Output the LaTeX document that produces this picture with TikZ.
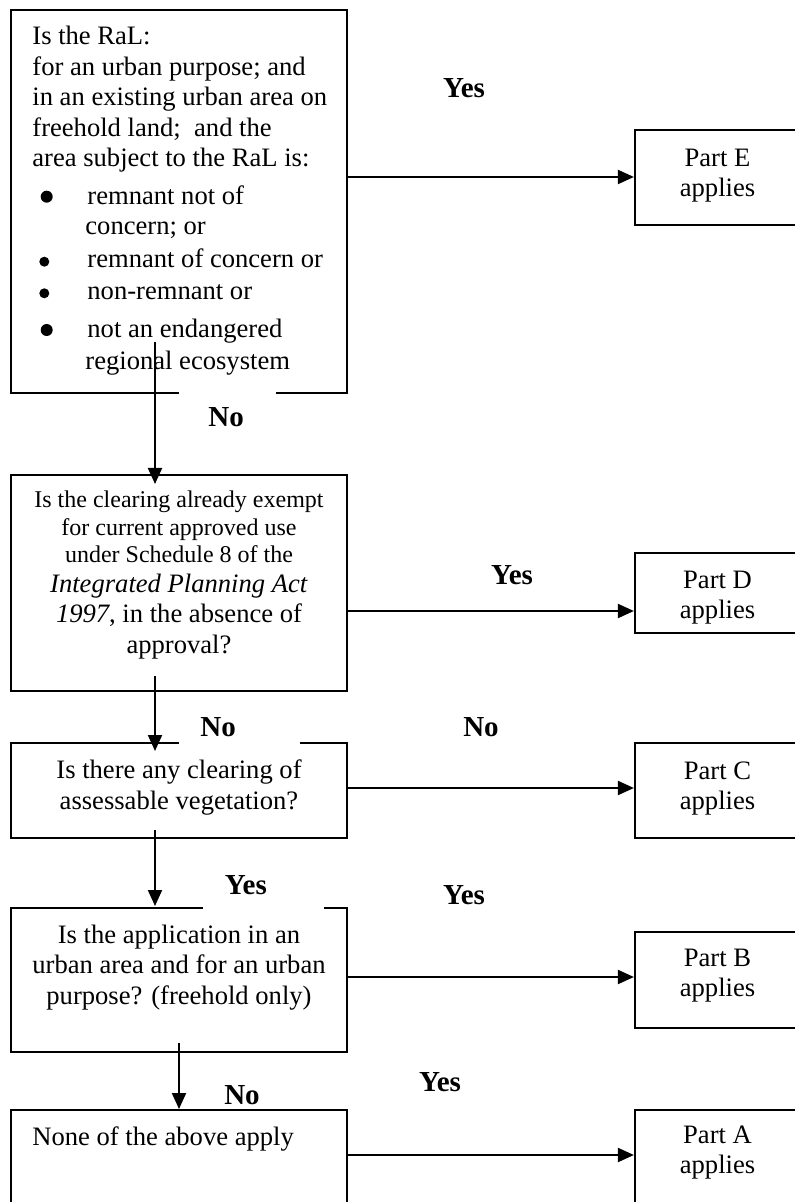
\documentclass[tikz,border=0pt]{standalone}
\usepackage{fontspec}
\setmainfont{Liberation Serif}
\usetikzlibrary{arrows.meta,fit}
\begin{document}
\begin{tikzpicture}[x=0.5pt,y=-0.5pt,
  box/.style={draw, line width=1.1pt, inner sep=0pt},
  body/.style={font=\fontsize{13.3}{15.25}\selectfont, inner sep=0pt},
  small/.style={font=\fontsize{12}{13.5}\selectfont, inner sep=0pt, anchor=base},
  ptext/.style={body, align=center, font=\fontsize{13.3}{15}\selectfont},
  lbl/.style={font=\bfseries\fontsize{14.5}{16}\selectfont, inner sep=0pt},
  cover/.style={lbl, fill=white, minimum height=26pt, anchor=west},
  arr/.style={line width=1pt, -{Triangle[length=8pt,width=7pt]}},
  bigdot/.style={circle, fill, inner sep=0pt, minimum size=6pt},
  smalldot/.style={circle, fill, inner sep=0pt, minimum size=5pt}
]
\useasboundingbox (0,0) rectangle (795,1202);

% left column boxes
\node[box, fit={(11,10) (347,393)}] (q1) {};
\node[box, fit={(11,475) (347,691)}] (q2) {};
\node[box, fit={(11,743) (347,838)}] (q3) {};
\node[box, fit={(11,908) (347,1052)}] (q4) {};
\node[box, fit={(11,1110) (347,1215)}] (q5) {};

% box 1 text
\node[body, anchor=base west] (l1) at (32,45) {Is the RaL:};
\node[body, anchor=base west] (l2) at (32,75.5) {for an urban purpose; and};
\node[body, anchor=base west] (l3) at (32,106) {in an existing urban area on};
\node[body, anchor=base west] (l4) at (32,136.5) {freehold land;\ \ and the};
\node[body, anchor=base west] (l5) at (32,167) {area subject to the RaL is:};
\node[body, anchor=base west] (l6) at (87,205) {remnant not of};
\node[body, anchor=base west] (l7) at (85,235) {concern; or};
\node[body, anchor=base west] (l8) at (87,268) {remnant of concern or};
\node[body, anchor=base west] (l9) at (87,300) {non-remnant or};
\node[body, anchor=base west] (l10) at (87,338) {not an endangered};
\node[body, anchor=base west] (l11) at (85,370) {regional ecosystem};
\node[bigdot] (b1) at (46.7,196.7) {};
\node[smalldot] (b2) at (44.3,261.7) {};
\node[smalldot] (b3) at (44.3,293.3) {};
\node[bigdot] (b4) at (46.7,330) {};

% box 2 text
\node[small] (m1) at (179,508) {Is the clearing already exempt};
\node[small] (m2) at (179,535.5) {for current approved use};
\node[small] (m3) at (179,562.5) {under Schedule 8 of the};
\node[body, anchor=base] (m4) at (179,592) {\textit{Integrated Planning Act}};
\node[body, anchor=base] (m5) at (179,622.5) {\textit{1997}, in the absence of};
\node[body, anchor=base] (m6) at (179,653) {approval?};

% other question texts
\node[body, align=center, font=\fontsize{13.3}{15.5}\selectfont] (t3) at (179,787.3)
  {Is there any clearing of\\assessable vegetation?};
\node[body, align=center, font=\fontsize{13.3}{15.25}\selectfont] (t4) at (179,967.3)
  {Is the application in an\\urban area and for an urban\\purpose? (freehold only)};
\node[body, anchor=base west] (t5) at (32,1145) {None of the above apply};

% part boxes
\node[box, fit={(635,130) (800,225)}] (pE) {};
\node[box, fit={(635,553) (800,633)}] (pD) {};
\node[box, fit={(635,743) (800,838)}] (pC) {};
\node[box, fit={(635,932) (800,1028)}] (pB) {};
\node[box, fit={(635,1110) (800,1215)}] (pA) {};
\node[ptext] (tE) at (717.5,176) {Part E\\applies};
\node[ptext] (tD) at (717.5,598) {Part D\\applies};
\node[ptext] (tC) at (717.5,789) {Part C\\applies};
\node[ptext] (tB) at (717.5,976) {Part B\\applies};
\node[ptext] (tA) at (717.5,1153) {Part A\\applies};

% vertical arrows
\coordinate (s1) at (155,342);  \coordinate (e1) at (155,484);
\coordinate (s2) at (155,676);  \coordinate (e2) at (155,751);
\coordinate (s3) at (155,830);  \coordinate (e3) at (155,906);
\coordinate (s4) at (179,1043); \coordinate (e4) at (179,1109);
\draw[arr] (s1) -- (e1);
\draw[arr] (s2) -- (e2);
\draw[arr] (s3) -- (e3);
\draw[arr] (s4) -- (e4);

% horizontal arrows
\coordinate (hE) at (0,177);
\coordinate (hD) at (0,611);
\coordinate (hC) at (0,788);
\coordinate (hB) at (0,977);
\coordinate (hA) at (0,1155);
\draw[arr] (q1.east |- hE) -- (pE.west |- hE);
\draw[arr] (q2.east |- hD) -- (pD.west |- hD);
\draw[arr] (q3.east |- hC) -- (pC.west |- hC);
\draw[arr] (q4.east |- hB) -- (pB.west |- hB);
\draw[arr] (q5.east |- hA) -- (pA.west |- hA);

% labels
\node[cover] (n1) at (179,417) {\makebox[48.5pt][l]{\hspace{14.5pt}No}};
\node[cover] (n2) at (179,727) {\makebox[60.5pt][l]{\hspace{10.5pt}No}};
\node[cover] (y3) at (203,885) {\makebox[60.5pt][l]{\hspace{10.75pt}Yes}};
\node[lbl] (n4) at (242,1095) {No};
\node[lbl] (yE) at (464,88) {Yes};
\node[lbl] (yD) at (512,575) {Yes};
\node[lbl] (nC) at (481,727) {No};
\node[lbl] (yB) at (464,895) {Yes};
\node[lbl] (yA) at (440,1082) {Yes};
\end{tikzpicture}
\end{document}
